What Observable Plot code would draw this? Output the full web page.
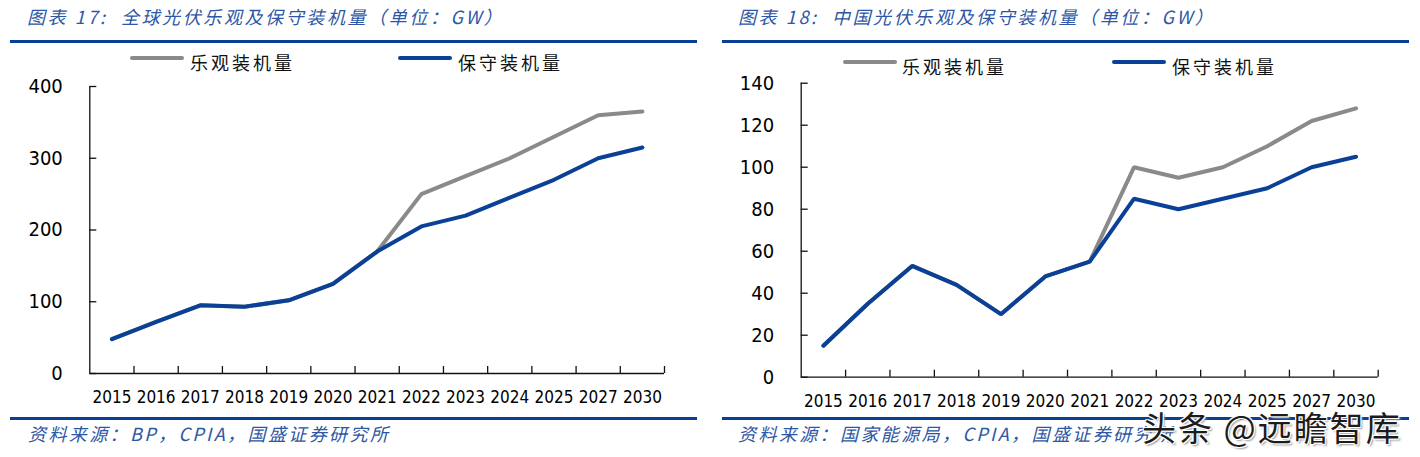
<!DOCTYPE html>
<html>
<head>
<meta charset="utf-8">
<script src="https://cdn.jsdelivr.net/npm/d3@7"></script>
<script src="https://cdn.jsdelivr.net/npm/@observablehq/plot@0.6"></script>
<style>
  html, body { margin: 0; padding: 0; background: #fff; }
  #root { position: relative; width: 1420px; height: 457px; overflow: hidden; background: #fff; }
  .abs { position: absolute; white-space: pre; }
  .title { font-family: "Noto Sans CJK SC", sans-serif; font-style: italic; font-size: 18px; letter-spacing: 2.6px; color: #2d57a5; line-height: 20px; }
  .source { font-family: "Noto Sans CJK SC", sans-serif; font-style: italic; font-size: 18px; letter-spacing: 2.4px; color: #2d57a5; line-height: 20px; }
  .rule { position: absolute; height: 3px; background: #0a3f96; }
  .legline { position: absolute; height: 4px; border-radius: 2px; }
  .legtext { font-family: "Noto Sans CJK SC", sans-serif; font-size: 18px; letter-spacing: 3px; color: #111; line-height: 20px; }
  .panel { position: absolute; }
  .watermark { font-family: "Noto Sans CJK SC", sans-serif; font-size: 34px; letter-spacing: 2px; color: #1c1c1c; line-height: 32px;
    text-shadow: 1px 1px 0 #fff, -1px -1px 0 #fff, 1px -1px 0 #fff, -1px 1px 0 #fff, 2px 2px 2px #999; }
</style>
</head>
<body>
<div id="root"></div>
<script>
// ---- data ----
const years = ["2015","2016","2017","2018","2019","2020","2021","2022","2023","2024","2025","2027","2030"];
const globalOptimistic   = [48, 72, 95, 93, 102, 125, 170, 250, 275, 300, 330, 360, 365];
const globalConservative = [48, 72, 95, 93, 102, 125, 170, 205, 220, 245, 270, 300, 315];
const chinaOptimistic    = [15, 35, 53, 44, 30, 48, 55, 100, 95, 100, 110, 122, 128];
const chinaConservative  = [15, 35, 53, 44, 30, 48, 55, 85, 80, 85, 90, 100, 105];
const globalYTicks = [0, 100, 200, 300, 400];
const chinaYTicks = [0, 20, 40, 60, 80, 100, 120, 140];
const seriesNames = ["乐观装机量", "保守装机量"];
const titles = ["图表 17:  全球光伏乐观及保守装机量（单位：GW）", "图表 18:  中国光伏乐观及保守装机量（单位：GW）"];
const sources = ["资料来源：BP，CPIA，国盛证券研究所", "资料来源：国家能源局，CPIA，国盛证券研究所"];
const watermarkText = "头条 @远瞻智库";

const GREY = "#8a8a8a";
const BLUE = "#0a4196";

const root = document.getElementById("root");
function el(cls, styleObj, text) {
  const d = document.createElement("div");
  d.className = cls;
  Object.assign(d.style, styleObj);
  if (text != null) d.textContent = text;
  root.appendChild(d);
  return d;
}

function makeChart(opt, cons, yMax, yTicks, cfg) {
  const idx = d3.range(years.length);
  const rows = (vals, s) => idx.map(i => ({i, v: vals[i], s}));
  const boundaries = idx.map(i => i + 0.5);
  return Plot.plot({
    width: cfg.width, height: cfg.height,
    marginLeft: cfg.ml, marginRight: cfg.mr, marginTop: cfg.mt, marginBottom: cfg.mb,
    style: {fontFamily: "'DejaVu Sans Condensed', 'DejaVu Sans', sans-serif", fontSize: "17px", color: "#000", background: "transparent", overflow: "visible"},
    x: {domain: [-0.5, years.length - 0.5], label: null},
    y: {domain: [0, yMax], label: null},
    marks: [
      Plot.axisY({ticks: yTicks, tickSize: 0, tickPadding: 27, fontSize: 20, label: null}),
      Plot.axisY({ticks: yTicks, tickSize: -7, tickFormat: () => "", stroke: "#111", strokeWidth: 1.3, label: null}),
      Plot.axisX({ticks: idx, tickSize: 0, tickPadding: cfg.xpad, tickFormat: i => years[i], fontSize: 17, label: null}),
      Plot.axisX({ticks: boundaries, tickSize: -7, tickFormat: () => "", stroke: "#111", strokeWidth: 1.3, label: null}),
      Plot.ruleX([-0.5], {y1: 0, y2: yMax, stroke: "#111", strokeWidth: 1.3}),
      Plot.ruleY([0], {stroke: "#111", strokeWidth: 1.3}),
      Plot.line(rows(opt, seriesNames[0]), {x: "i", y: "v", stroke: GREY, strokeWidth: 4, strokeLinejoin: "miter"}),
      Plot.line(rows(cons, seriesNames[1]), {x: "i", y: "v", stroke: BLUE, strokeWidth: 4, strokeLinejoin: "miter"})
    ]
  });
}

// ---- left panel ----
el("abs title", {left: "27px", top: "6px"}, titles[0]);
el("rule", {left: "10px", top: "40px", width: "687px"});
el("legline", {left: "130px", top: "56px", width: "54px", background: GREY});
el("abs legtext", {left: "190px", top: "52px"}, seriesNames[0]);
el("legline", {left: "398px", top: "56px", width: "54px", background: BLUE});
el("abs legtext", {left: "458px", top: "52px"}, seriesNames[1]);
const left = makeChart(globalOptimistic, globalConservative, 400, globalYTicks,
  {width: 700, height: 345, ml: 89.3, mr: 36, mt: 16, mb: 42, xpad: 17});
const lp = el("panel", {left: "0px", top: "70px"});
lp.appendChild(left);
el("rule", {left: "10px", top: "417px", width: "687px"});
el("abs source", {left: "28px", top: "423px"}, sources[0]);

// ---- right panel ----
el("abs title", {left: "738px", top: "6px"}, titles[1]);
el("rule", {left: "722px", top: "40px", width: "687px"});
el("legline", {left: "843px", top: "60px", width: "54px", background: GREY});
el("abs legtext", {left: "902px", top: "56px"}, seriesNames[0]);
el("legline", {left: "1112px", top: "60px", width: "54px", background: BLUE});
el("abs legtext", {left: "1172px", top: "56px"}, seriesNames[1]);
const right = makeChart(chinaOptimistic, chinaConservative, 140, chinaYTicks,
  {width: 700, height: 345, ml: 89.7, mr: 33.3, mt: 12.7, mb: 38.3, xpad: 18});
const rp = el("panel", {left: "711px", top: "70px"});
rp.appendChild(right);
el("rule", {left: "722px", top: "417px", width: "687px"});
el("abs source", {left: "738px", top: "423px"}, sources[1]);

// watermark
el("abs watermark", {left: "1142px", top: "411px"}, watermarkText);
</script>
</body>
</html>
